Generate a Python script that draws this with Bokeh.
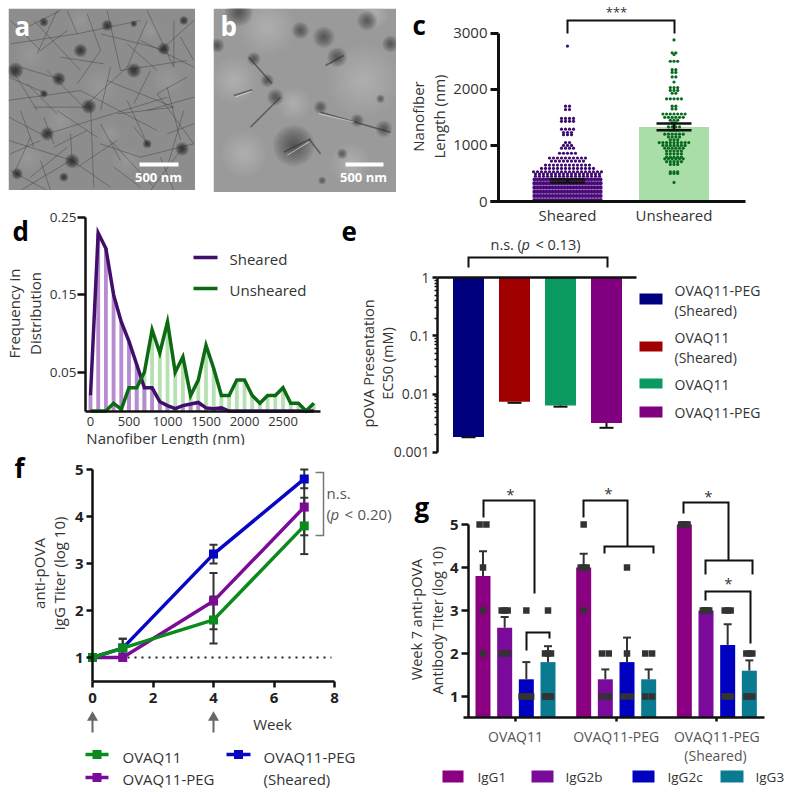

import math
from bokeh.embed import file_html
from bokeh.resources import INLINE
from bokeh.plotting import figure
from bokeh.layouts import column
from bokeh.models import Range1d, FixedTicker, Label, CustomJSTickFormatter

FONT = "Open Sans"

# ---------- data ----------
c_categories = ["Sheared", "Unsheared"]
c_means = [370, 1330]
c_err_low = [340, 1270]
c_err_high = [395, 1390]
c_sheared_dense_levels = [25, 100, 175, 250, 325, 395]
c_sheared_dense_counts = [23, 23, 23, 23, 23, 23]
c_sheared_levels = [450, 490, 530, 590, 650, 720, 775, 860, 950, 1000, 1050,
                    1190, 1230, 1290, 1430, 1480, 1640, 1700, 2770]
c_sheared_counts = [17, 17, 18, 14, 12, 9, 10, 5, 4, 3, 2,
                    3, 3, 4, 4, 4, 2, 2, 1]
c_unsheared_levels = [340, 500, 530, 660, 710, 760, 790, 850, 900, 950, 1000, 1050, 1100, 1150, 1200, 1270, 1330,
                      1400, 1450, 1500, 1560, 1650, 1700, 1830, 1930, 1980, 2030, 2130, 2220, 2300, 2350, 2500, 2620, 2650, 2880]
c_unsheared_counts = [1, 3, 3, 3, 5, 6, 5, 5, 5, 6, 7, 9, 3, 4, 6, 3, 4, 2, 3, 6, 7, 2, 2, 5, 2, 3, 3, 1, 2, 2, 2, 3, 1, 2, 1]

d_bins = [0, 100, 200, 300, 400, 500, 600, 700, 800, 900, 1000, 1100, 1200, 1300, 1400, 1500, 1600, 1700, 1800, 1900,
          2000, 2100, 2200, 2300, 2400, 2500, 2600, 2700, 2800, 2900]
d_sheared = [0.02, 0.23, 0.21, 0.15, 0.115, 0.09, 0.06, 0.03, 0.03, 0.012, 0.007, 0.003, 0.007, 0.009, 0.011, 0.004,
             0.003, 0.004, 0.0, 0.0, 0.0, 0.0, 0.0, 0.0, 0.0, 0.0, 0.0, 0.0, 0.0, 0.0]
d_unsheared = [0.0, 0.0, 0.0, 0.01, 0.002, 0.03, 0.03, 0.05, 0.105, 0.075, 0.115, 0.05, 0.07, 0.02, 0.04, 0.085,
               0.055, 0.02, 0.02, 0.04, 0.04, 0.02, 0.01, 0.02, 0.02, 0.03, 0.01, 0.01, 0.0, 0.01]
d_xticks = [0, 500, 1000, 1500, 2000, 2500]
d_yticks = [0.05, 0.15, 0.25]

e_names = ["OVAQ11-PEG (Sheared)", "OVAQ11 (Sheared)", "OVAQ11", "OVAQ11-PEG"]
e_values = [0.00185, 0.0074, 0.0064, 0.0032]
e_err = [0.00182, 0.0071, 0.0061, 0.00265]
e_colors = ["#00007f", "#a00000", "#0a9a60", "#800080"]

f_weeks = [0, 1, 4, 7]
f_ovaq11 = [1, 1.2, 1.8, 3.8]
f_ovaq11_low = [1, 1.0, 1.3, 3.2]
f_ovaq11_high = [1, 1.4, 2.3, 4.4]
f_peg = [1, 1.0, 2.2, 4.2]
f_peg_low = [1, 1.0, 1.6, 3.6]
f_peg_high = [1, 1.0, 2.8, 4.8]
f_sheared = [1, 1.2, 3.2, 4.8]
f_sheared_low = [1, 1.0, 3.0, 4.6]
f_sheared_high = [1, 1.4, 3.4, 5.0]

g_groups = ["OVAQ11", "OVAQ11-PEG", "OVAQ11-PEG"]
g_isotypes = ["IgG1", "IgG2b", "IgG2c", "IgG3"]
g_values = [[3.8, 2.6, 1.4, 1.8], [4.0, 1.4, 1.8, 1.4], [5.0, 3.0, 2.2, 1.6]]
g_err_high = [[4.38, 2.85, 1.8, 2.17], [4.32, 1.63, 2.37, 1.63], [5.0, 3.0, 2.68, 1.84]]
g_points = [
    [[(5, 2), (4, 1), (3, 1), (2, 1)], [(3, 3), (2, 3)], [(3, 1), (1, 4)], [(3, 1), (2, 3), (1, 3)]],
    [[(5, 1), (4, 3), (3, 1)], [(2, 2), (1, 2)], [(4, 1), (2, 1), (1, 2)], [(2, 2), (1, 2)]],
    [[(5, 5)], [(3, 5)], [(3, 3), (1, 3)], [(2, 3), (1, 3)]],
]
g_colors = ["#8a0080", "#7a0a9a", "#0000c0", "#0a7a90"]

a_fibers = [(25,230,140,280),(140,210,250,320),(250,320,380,200),(380,200,440,60),(320,30,360,210),(440,30,520,200),
    (30,130,230,100),(230,100,420,60),(100,60,240,210),(480,150,580,60),(300,100,500,150),(20,300,240,270),
    (240,270,470,390),(470,280,580,430),(320,240,520,320),(500,260,540,420),(25,420,215,480),(215,480,330,560),
    (120,480,150,570),(60,570,210,480),(210,400,215,480),(100,320,260,320),(270,320,280,560),(330,420,460,560),
    (140,400,500,290),(400,380,450,440),(540,450,450,570),(30,510,140,570),(130,350,160,430),(350,340,520,320),
    (60,200,190,240),(200,30,230,100),(520,60,520,200),(25,350,140,410),(360,210,560,180),(170,30,110,160),
    (300,430,420,470),(420,470,580,430),(60,90,180,30),(420,120,580,200),(30,200,110,330),(330,200,300,330),
    (170,330,290,410),(380,300,440,430),(500,400,580,370),(90,410,40,520),(230,500,350,420),(480,470,520,570),
    (30,60,120,150),(120,150,200,90),(260,40,300,150),(300,150,230,250),(450,210,400,310),(560,230,470,280),
    (60,330,100,440),(160,440,260,390),(340,500,420,560),(90,530,200,440),(550,330,500,500),(30,460,120,420),
    (180,170,310,190),(80,250,170,340),(300,370,360,480),(440,330,580,290),(380,130,470,210),(540,110,580,180)]
a_blobs = [(130,65,8),(320,75,10),(400,70,6),(240,150,12),(490,145,11),(45,210,14),(400,210,13),(175,235,12),
    (130,280,7),(265,318,13),(140,400,12),(545,445,12),(215,482,13),(50,520,10),(190,530,8),(440,430,8),(550,60,8)]
a_light = [(90,160,50),(300,260,60),(500,240,50),(180,360,45),(380,480,45),(80,470,50),(240,60,40),(450,90,35),(330,400,35)]
b_light = [(1090,240,110),(800,80,85),(700,240,70),(1050,490,60),(880,310,50),(730,460,70),(1120,40,45)]
b_dark = [(760,175,20),(800,240,20),(1010,170,30),(970,110,32),(880,435,62),(960,320,20),(1070,360,20),(825,290,25),
    (1150,385,25),(715,35,42),(900,90,26),(1025,460,16),(965,540,12),(1140,295,13),(1170,130,25),(650,135,22),(1100,60,30)]
b_fibers = [(745,170,815,250),(700,285,755,268),(960,335,1170,395),(850,455,930,415),(925,415,960,460),(975,195,1030,165),(750,380,840,290)]
b_pale = [(705,285,752,268),(860,460,925,420),(955,335,1060,360)]

# ---------- helpers ----------
class Tile:
    def __init__(s, x0, y0, w, h, xmap, ymap, log=False, xaxis=True, yaxis=True):
        s.log = log
        s.xp, s.xv, s.xs = xmap
        s.yp, s.yv, s.ys = ymap
        kw = dict(y_axis_type="log") if log else {}
        s.p = figure(width=w, height=h, output_backend="svg", toolbar_location=None,
                     x_range=Range1d(s.X(x0), s.X(x0 + w)), y_range=Range1d(s.Y(y0 + h), s.Y(y0)),
                     x_axis_location="below" if xaxis else None, y_axis_location="left" if yaxis else None,
                     min_border_left=0, min_border_right=0, min_border_top=0, min_border_bottom=0,
                     outline_line_color=None, background_fill_alpha=0, border_fill_alpha=0,
                     frame_align=False,
                     margin=(y0, 0, -(y0 + h), x0), **kw)
        s.p.grid.visible = False

    def X(s, px):
        return s.xv + (px - s.xp) / s.xs

    def Y(s, py):
        if s.log:
            return s.yv * 10 ** ((s.yp - py) / s.ys)
        return s.yv + (s.yp - py) / s.ys

    def text(s, px, py, t, size=15, color="#333333", align="left", style="normal", angle=0, font=FONT):
        s.p.add_layout(Label(x=s.X(px), y=s.Y(py), text=t, text_font=font, text_font_size=f"{size}px",
                             text_color=color, text_align=align, text_baseline="middle",
                             text_font_style=style, angle=angle))

    def poly(s, pts, color="#111111", width=2, alpha=1.0):
        s.p.line([s.X(a) for a, _ in pts], [s.Y(b) for _, b in pts], line_color=color, line_width=width,
                 line_alpha=alpha, line_join="miter")


def style_axis(ax, width=2.5, tick=8, size=15, color="#333333", bold=False, standoff=3):
    ax.axis_line_color = "#111111"
    ax.axis_line_width = width
    ax.major_tick_line_color = "#111111"
    ax.major_tick_line_width = width
    ax.major_tick_out = tick
    ax.major_tick_in = 0
    ax.minor_tick_out = 0
    ax.minor_tick_in = 0
    ax.major_label_text_font = FONT
    ax.major_label_text_font_size = f"{size}px"
    ax.major_label_text_color = color
    ax.major_label_text_font_style = "bold" if bold else "normal"
    ax.major_label_standoff = standoff


def micrograph(x0, y0, w, h, shade):
    t = Tile(x0, y0, w, h, (x0, x0, 1), (y0, -y0, 1), xaxis=False, yaxis=False)
    t.p.quad(left=x0, right=x0 + w, bottom=t.Y(y0 + h), top=t.Y(y0), fill_color=shade, line_color=None)
    return t


def soft(t, cx, cy, r, color, alpha=0.1, rings=10):
    rs = [r * (i + 1) / rings for i in range(rings)]
    t.p.circle(x=[t.X(cx)] * rings, y=[t.Y(cy)] * rings, radius=rs, fill_color=color, fill_alpha=alpha, line_color=None)


figs = []

# ---------- a ----------
ta = micrograph(8, 8, 187, 182, "#8d8d8d")
for cx, cy, r in a_light:
    soft(ta, cx / 3, cy / 3, r / 3, "#b4b4b4", 0.05)
ta.p.segment(x0=[ta.X(f[0] / 3) for f in a_fibers], y0=[ta.Y(f[1] / 3) for f in a_fibers],
             x1=[ta.X(f[2] / 3) for f in a_fibers], y1=[ta.Y(f[3] / 3) for f in a_fibers],
             line_color="#3a3a3a", line_alpha=0.42, line_width=1)
for cx, cy, r in a_blobs:
    soft(ta, cx / 3, cy / 3, r / 3 * 1.7, "#1c1c1c", 0.12)
ta.p.quad(left=ta.X(139), right=ta.X(178), top=ta.Y(162), bottom=ta.Y(166), fill_color="white", line_color=None)
ta.text(158, 176, "500 nm", 13, "white", "center", "bold")
ta.text(14, 25, "a", 26, "white", "left", "bold")
figs.append(ta.p)

# ---------- b ----------
tb = micrograph(213, 8, 183, 184, "#9a9a9a")
for cx, cy, r in b_light:
    soft(tb, cx / 3, cy / 3, r / 3, "#c6c6c6", 0.06)
for cx, cy, r in b_dark:
    soft(tb, cx / 3, cy / 3, r / 3, "#262626", 0.08)
tb.p.segment(x0=[tb.X(f[0] / 3) for f in b_fibers], y0=[tb.Y(f[1] / 3) for f in b_fibers],
             x1=[tb.X(f[2] / 3) for f in b_fibers], y1=[tb.Y(f[3] / 3) for f in b_fibers],
             line_color="#2a2a2a", line_alpha=0.55, line_width=1.5)
tb.p.segment(x0=[tb.X(f[0] / 3) for f in b_pale], y0=[tb.Y(f[1] / 3 + 1.5) for f in b_pale],
             x1=[tb.X(f[2] / 3) for f in b_pale], y1=[tb.Y(f[3] / 3 + 1.5) for f in b_pale],
             line_color="#dddddd", line_alpha=0.7, line_width=1)
tb.p.quad(left=tb.X(345), right=tb.X(383), top=tb.Y(162), bottom=tb.Y(166), fill_color="white", line_color=None)
tb.text(363, 176, "500 nm", 13, "white", "center", "bold")
tb.text(220, 25, "b", 26, "white", "left", "bold")
figs.append(tb.p)

# ---------- c ----------
tc = Tile(400, 0, 385, 224, (567, 1, 106.5), (201, 0, 168.3 / 3000))
pc = tc.p
style_axis(pc.xaxis[0], 3, 0, 15)
style_axis(pc.yaxis[0], 3, 8, 15)
pc.xaxis.fixed_location = 0
pc.yaxis.fixed_location = tc.X(498)
pc.xaxis.bounds = (tc.X(490), tc.X(745))
pc.yaxis.bounds = (0, 3000)
pc.xaxis.ticker = FixedTicker(ticks=[1, 2])
pc.xaxis.major_label_overrides = {1: c_categories[0], 2: c_categories[1]}
pc.yaxis.ticker = FixedTicker(ticks=[1000, 2000, 3000, 0])
pc.yaxis.major_label_overrides = {0: "0", 1000: "1000", 2000: "2000", 3000: "3000"}
half = 35 / 106.5
pc.vbar(x=[1, 2], top=c_means, bottom=0, width=2 * half, fill_color=["#a98cc4", "#a9dea9"], line_color=None)


def swarm(levels, counts, center, color, gap, size):
    xs, ys = [], []
    for lv, n in zip(levels, counts):
        for i in range(n):
            xs.append(center + (i - (n - 1) / 2) * gap / 106.5)
            ys.append(lv)
    pc.scatter(xs, ys, size=size, fill_color=color, line_color=None)


swarm(c_sheared_dense_levels, c_sheared_dense_counts, 1, "#4a0a78", 3, 3.9)
swarm(c_sheared_levels, c_sheared_counts, 1, "#3f0a6e", 4, 3.2)
swarm(c_unsheared_levels, c_unsheared_counts, 2, "#0b6a20", 3.7, 3.2)
capw = 17.5 / 106.5
pc.segment(x0=[1, 2], x1=[1, 2], y0=c_err_low, y1=c_err_high, line_color="#111111", line_width=2.5)
pc.segment(x0=[1 - capw, 2 - capw], x1=[1 + capw, 2 + capw], y0=c_err_low, y1=c_err_low, line_color="#111111", line_width=2.5)
pc.segment(x0=[1 - capw, 2 - capw], x1=[1 + capw, 2 + capw], y0=c_err_high, y1=c_err_high, line_color="#111111", line_width=2.5)
tc.poly([(567, 33), (567, 20), (674, 20), (674, 33)])
tc.text(616, 11, "***", 13, "#333333", "center")
tc.text(417, 116, "Nanofiber", 15, angle=math.pi / 2, align="center")
tc.text(438, 116, "Length (nm)", 15, angle=math.pi / 2, align="center")
tc.text(412, 24, "c", 26, "#000000", "left", "bold")
figs.append(pc)

# ---------- d ----------
td = Tile(0, 205, 340, 240, (90, 0, 0.077), (410.5, 0, 774))
pd = td.p
style_axis(pd.xaxis[0], 2.5, 0, 13, standoff=6)
style_axis(pd.yaxis[0], 2.5, 8, 13.5, standoff=1)
pd.xaxis.fixed_location = 0
pd.yaxis.fixed_location = td.X(85)
pd.xaxis.bounds = (td.X(85), td.X(320))
pd.yaxis.bounds = (0, 0.25)
pd.xaxis.ticker = FixedTicker(ticks=d_xticks)
pd.xaxis.major_label_overrides = {v: str(v) for v in d_xticks}
pd.yaxis.ticker = FixedTicker(ticks=d_yticks)
pd.yaxis.major_label_overrides = {0.05: "0.05", 0.15: "0.15", 0.25: "0.25"}
pd.vbar(x=d_bins, top=d_unsheared, bottom=0, width=50, fill_color="#b6e2b2", line_color=None)
pd.vbar(x=d_bins, top=d_sheared, bottom=0, width=50, fill_color="#b78ccf", line_color=None)
pd.line(d_bins, d_sheared, line_color="#3f0f6b", line_width=3.5, line_join="miter")
pd.line(d_bins, d_unsheared, line_color="#0b6a12", line_width=3.5, line_join="miter")
td.poly([(193, 257), (217, 257)], "#3f0f6b", 3.5)
td.poly([(193, 288), (217, 288)], "#0b6a12", 3.5)
td.text(229, 258, "Sheared", 15)
td.text(229, 289, "Unsheared", 15)
td.text(165, 437, "Nanofiber Length (nm)", 15, align="center")
td.text(13, 313, "Frequency in", 15, angle=math.pi / 2, align="center")
td.text(34, 313, "Distribution", 15, angle=math.pi / 2, align="center")
td.text(12, 230, "d", 26, "#000000", "left", "bold")
figs.append(pd)

# ---------- e ----------
te = Tile(340, 225, 445, 235, (468, 0, 1), (277, 1, 58.33), log=True, xaxis=False)
pe = te.p
style_axis(pe.yaxis[0], 2.5, 5, 14, standoff=3)
pe.yaxis.fixed_location = te.X(437)
pe.yaxis.bounds = (0.001, 1)
e_major = [0.001, 0.01, 0.1, 1]
e_minor = [m * d for d in (0.001, 0.01, 0.1) for m in (2, 3, 4, 5, 6, 7, 8, 9)]
pe.yaxis.ticker = FixedTicker(ticks=e_major, minor_ticks=e_minor)
pe.yaxis.formatter = CustomJSTickFormatter(code="return String(Number(tick.toPrecision(1)))")
pe.yaxis.minor_tick_out = 3
pe.yaxis.minor_tick_line_color = "#111111"
pe.yaxis.minor_tick_line_width = 1.5
e_pos = [468, 514, 560, 606]
e_x = [te.X(v) for v in e_pos]
pe.vbar(x=e_x, top=1, bottom=e_values, width=31, fill_color=e_colors, line_color=None)
pe.segment(x0=e_x, x1=e_x, y0=e_err, y1=e_values, line_color="#111111", line_width=2)
pe.segment(x0=[v - 7 for v in e_x], x1=[v + 7 for v in e_x], y0=e_err, y1=e_err, line_color="#111111", line_width=2)
te.poly([(437, 277), (636, 277)], "#111111", 2.5)
te.poly([(468, 267), (468, 257), (607, 257), (607, 267)], "#111111", 2)
te.text(490, 244, "n.s.", 14.5)
te.text(517, 244, "(", 14.5)
te.text(521, 244, "p", 14.5, style="italic")
te.text(535, 244, "<", 14.5)
te.text(547, 244, "0.13)", 14.5)
for top, bot, col in zip([293, 341, 378, 406], [304, 351, 388, 417], e_colors):
    pe.quad(left=te.X(639), right=te.X(662), top=te.Y(top), bottom=te.Y(bot), fill_color=col, line_color=None)
for py, s in zip([290, 310, 337, 357, 384, 412],
                 ["OVAQ11-PEG", "(Sheared)", "OVAQ11", "(Sheared)", "OVAQ11", "OVAQ11-PEG"]):
    te.text(674, py, s, 14)
te.text(368, 363, "pOVA Presentation", 14.5, angle=math.pi / 2, align="center")
te.text(387, 363, "EC50 (mM)", 14.5, angle=math.pi / 2, align="center")
te.text(341, 231, "e", 26, "#000000", "left", "bold")
figs.append(pe)

# ---------- f ----------
tf = Tile(0, 450, 400, 340, (92, 0, 30.25), (657, 1, 47))
pf = tf.p
style_axis(pf.xaxis[0], 2.5, 6, 15, "#222222", True, 6)
style_axis(pf.yaxis[0], 2.5, 6, 15, "#222222", True, 3)
pf.xaxis.fixed_location = 0.5
pf.yaxis.fixed_location = 0
pf.xaxis.bounds = (0, 8)
pf.yaxis.bounds = (0.5, 5)
pf.xaxis.ticker = FixedTicker(ticks=[0, 2, 4, 6, 8])
pf.xaxis.major_label_overrides = {v: str(v) for v in [0, 2, 4, 6, 8]}
pf.yaxis.ticker = FixedTicker(ticks=[1, 2, 3, 4, 5])
pf.yaxis.major_label_overrides = {v: str(v) for v in [1, 2, 3, 4, 5]}
pf.line([0, 7.9], [1, 1], line_color="#222222", line_width=2, line_dash="2 5")
f_blue, f_purple, f_green = "#0606c4", "#7b0c98", "#0b8a1e"
f_cap = 4 / 30.25
for lo, hi in [(f_sheared_low, f_sheared_high), (f_peg_low, f_peg_high), (f_ovaq11_low, f_ovaq11_high)]:
    pf.segment(x0=f_weeks, x1=f_weeks, y0=lo, y1=hi, line_color="#333333", line_width=2)
    for ends in (lo, hi):
        pf.segment(x0=[w - f_cap for w in f_weeks], x1=[w + f_cap for w in f_weeks], y0=ends, y1=ends,
                   line_color="#333333", line_width=2)
for vals, col in [(f_sheared, f_blue), (f_peg, f_purple), (f_ovaq11, f_green)]:
    pf.line(f_weeks, vals, line_color=col, line_width=3.5)
    pf.scatter(f_weeks, vals, marker="square", size=9, fill_color=col, line_color=None)
tf.poly([(315, 472), (323, 472), (323, 535), (315, 535)], "#777777", 1.5)
tf.text(326, 492, "n.s.", 15, "#555555")
tf.text(326, 513, "(", 15, "#555555")
tf.text(330, 513, "p", 15, "#555555", style="italic")
tf.text(344, 513, "<", 15, "#555555")
tf.text(357, 513, "0.20)", 15, "#555555")
for ax in (92, 213):
    tf.poly([(ax, 732), (ax, 718)], "#666666", 2)
    pf.scatter([tf.X(ax)], [tf.Y(717)], marker="triangle", size=11, fill_color="#666666", line_color=None)
tf.text(272, 723, "Week", 15, align="center")
for x1, x2, py, col in [(85, 108, 754, f_green), (85, 108, 777, f_purple), (226, 250, 754, f_blue)]:
    tf.poly([(x1, py), (x2, py)], col, 3.5)
    pf.scatter([tf.X((x1 + x2) / 2)], [tf.Y(py)], marker="square", size=9, fill_color=col, line_color=None)
tf.text(122, 756, "OVAQ11", 15)
tf.text(122, 778, "OVAQ11-PEG", 15)
tf.text(263, 756, "OVAQ11-PEG", 15)
tf.text(263, 778, "(Sheared)", 15)
tf.text(38, 573, "anti-pOVA", 15, angle=math.pi / 2, align="center")
tf.text(58, 573, "IgG Titer (log 10)", 15, angle=math.pi / 2, align="center")
tf.text(14, 467, "f", 26, "#000000", "left", "bold")
figs.append(pf)

# ---------- g ----------
tg = Tile(400, 482, 385, 308, (515, 1, 100.67), (696, 1, 43))
pg = tg.p
style_axis(pg.xaxis[0], 2.5, 4, 14, "#555555", False, 5)
style_axis(pg.yaxis[0], 2.5, 7, 15, "#222222", True, 3)
pg.xaxis.fixed_location = tg.Y(717)
pg.yaxis.fixed_location = tg.X(468)
pg.xaxis.bounds = (tg.X(463), tg.X(764))
pg.yaxis.bounds = (tg.Y(717), 5)
pg.xaxis.ticker = FixedTicker(ticks=[1, 2, 3])
pg.xaxis.major_label_overrides = {1: g_groups[0], 2: g_groups[1], 3: g_groups[2]}
pg.yaxis.ticker = FixedTicker(ticks=[1, 2, 3, 4, 5])
pg.yaxis.major_label_overrides = {v: str(v) for v in [1, 2, 3, 4, 5]}
unit = 100.67
offs = [-1.5 * 21.67 / unit, -0.5 * 21.67 / unit, 0.5 * 21.67 / unit, 1.5 * 21.67 / unit]
spread = {1: 0, 2: 6.8, 3: 3, 4: 3.2, 5: 1.6}
base = tg.Y(717)
for gi in range(3):
    gx = [gi + 1 + o for o in offs]
    pg.vbar(x=gx, top=g_values[gi], bottom=base, width=15 / unit, fill_color=g_colors, line_color=None)
    pg.segment(x0=gx, x1=gx, y0=g_values[gi], y1=g_err_high[gi], line_color="#333333", line_width=2)
    pg.segment(x0=[v - 4 / unit for v in gx], x1=[v + 4 / unit for v in gx], y0=g_err_high[gi], y1=g_err_high[gi],
               line_color="#333333", line_width=2)
    px, py = [], []
    for bi, pts in enumerate(g_points[gi]):
        for lv, n in pts:
            for i in range(n):
                px.append(gx[bi] + (i - (n - 1) / 2) * spread[n] / unit)
                py.append(lv)
    pg.scatter(px, py, marker="square", size=6.5, fill_color="#333333", line_color=None)
tg.poly([(483, 517), (483, 500), (534, 500), (534, 593)])
tg.poly([(526, 650), (526, 632), (549, 632), (549, 638)])
tg.poly([(583, 517), (583, 500), (627, 500), (627, 546)])
tg.poly([(604, 553), (604, 546), (653, 546), (653, 553)])
tg.poly([(683, 513), (683, 502), (728, 502), (728, 560)])
tg.poly([(705, 574), (705, 560), (752, 560), (752, 574)])
tg.poly([(705, 600), (705, 591), (750, 591), (750, 643)])
tg.text(510, 493, "*", 15, align="center")
tg.text(608, 492, "*", 15, align="center")
tg.text(708, 495, "*", 15, align="center")
tg.text(728, 582, "*", 15, align="center")
tg.text(715, 755, "(Sheared)", 14, "#555555", "center")
for x1, x2, xt, col, s in zip([442, 531, 632, 720], [463, 553, 654, 743], [477, 565, 667, 755], g_colors, g_isotypes):
    pg.quad(left=tg.X(x1), right=tg.X(x2), top=tg.Y(770), bottom=tg.Y(782), fill_color=col, line_color=None)
    tg.text(xt, 776, s, 13.5)
tg.text(416, 619, "Week 7 anti-pOVA", 14.5, angle=math.pi / 2, align="center")
tg.text(437, 620, "Antibody Titer (log 10)", 14.5, angle=math.pi / 2, align="center")
tg.text(414, 506, "g", 26, "#000000", "left", "bold")
figs.append(pg)

page = column(*figs, width=785, height=790, spacing=0)
open("out.html", "w").write(file_html(page, INLINE))
